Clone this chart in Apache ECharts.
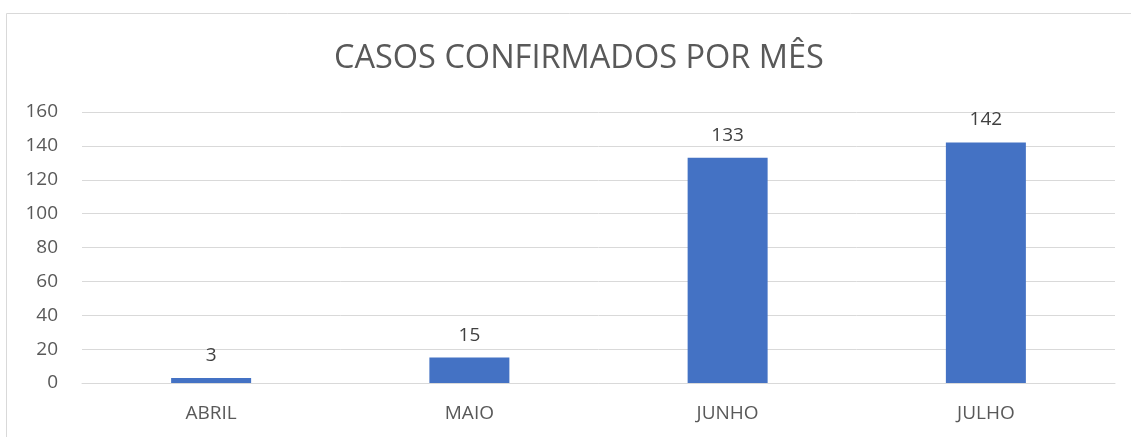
<!DOCTYPE html>
<html>
<head>
<meta charset="utf-8">
<script src="https://cdn.jsdelivr.net/npm/echarts@6/dist/echarts.min.js"></script>
<style>
  html, body { margin: 0; padding: 0; background: #fff; }
  #chart { width: 1131px; height: 437px; }
</style>
</head>
<body>
<div id="chart"></div>
<script>
const months = ['ABRIL', 'MAIO', 'JUNHO', 'JULHO'];
const cases = [3, 15, 133, 142];
const yMax = 160;
const yStep = 20;

(function(){
    let myChart = echarts.init(document.getElementById('chart'));
    let font = 'Open Sans';
    let options = {
        animation: false,
        textStyle: { fontFamily: font },
        graphic: [{
            type: 'rect',
            shape: { x: 6.5, y: 13.5, width: 1140, height: 440 },
            style: { fill: 'none', stroke: '#d9d9d9', lineWidth: 1 },
            silent: true
        }],
        title: {
            text: 'CASOS CONFIRMADOS POR MÊS',
            left: 329,
            top: 37,
            textStyle: { fontFamily: font, fontSize: 32.5, fontWeight: 'normal', color: '#595959' }
        },
        grid: { left: 82, right: 16, top: 112, bottom: 54, containLabel: false },
        xAxis: {
            type: 'category',
            data: months,
            axisLine: { lineStyle: { color: '#d9d9d9', width: 1 } },
            axisTick: { show: false },
            axisLabel: { color: '#595959', fontSize: 19, margin: 21, fontFamily: font }
        },
        yAxis: {
            type: 'value',
            min: 0,
            max: yMax,
            interval: yStep,
            axisLine: { show: false },
            axisTick: { show: false },
            splitLine: { lineStyle: { color: '#d9d9d9', width: 1 } },
            axisLabel: { color: '#595959', fontSize: 19, margin: 24, fontFamily: font }
        },
        series: [{
            type: 'bar',
            data: cases,
            barWidth: 80,
            itemStyle: { color: '#4472c4' },
            label: {
                show: true,
                position: 'top',
                distance: 13,
                color: '#404040',
                fontSize: 19,
                fontFamily: font
            }
        }]
    };
    myChart.setOption(options);
})();
</script>
</body>
</html>
